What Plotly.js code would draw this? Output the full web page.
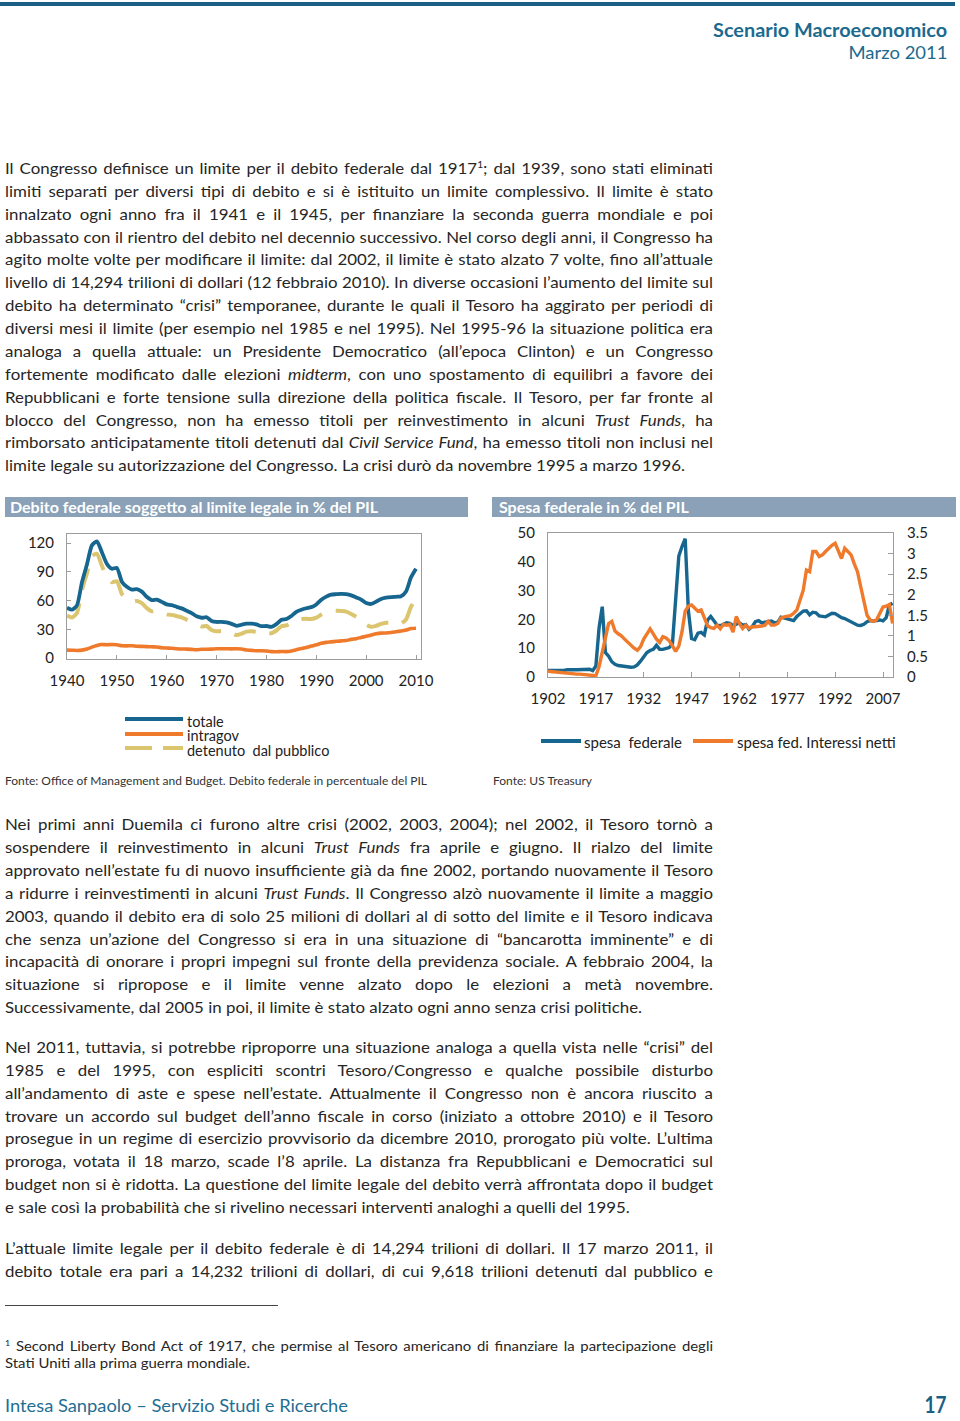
<!DOCTYPE html>
<html><head><meta charset="utf-8">
<script src="https://cdn.plot.ly/plotly-3.0.1.min.js"></script>
<style>
html,body{margin:0;padding:0;background:#fff;}
#page{position:relative;width:960px;height:1421px;overflow:hidden;background:#fff;font-family:Lato,'Open Sans',sans-serif;color:#262626;}
.ln{position:absolute;left:5px;white-space:nowrap;font-size:16.2px;line-height:20px;transform-origin:0 0;}
.fn{font-size:13.4px;line-height:16px;}
sup{font-size:0.6em;line-height:0;vertical-align:0.6em;}
#topbar{position:absolute;left:0;top:2px;width:955px;height:4px;background:#1b5e86;}
.hd{position:absolute;right:13px;white-space:nowrap;color:#1c6a8e;transform-origin:100% 0;}
#rule{position:absolute;left:5px;top:1305px;width:273px;height:1px;background:#444;}
#chart{position:absolute;left:0;top:490px;width:960px;height:310px;}
</style></head>
<body>
<div id="page">
<div id="topbar"></div>
<div class="hd" id="h1" data-b="37" data-w="234" style="font-size:18px;font-weight:700;">Scenario Macroeconomico</div>
<div class="hd" id="h2" data-b="59" data-w="99" style="font-size:18px;font-weight:400;">Marzo 2011</div>

<div class="ln b" data-b="174" data-j="1">Il Congresso definisce un limite per il debito federale dal 1917<sup>1</sup>; dal 1939, sono stati eliminati</div>
<div class="ln b" data-b="196.9" data-j="1">limiti separati per diversi tipi di debito e si è istituito un limite complessivo. Il limite è stato</div>
<div class="ln b" data-b="219.7" data-j="1">innalzato ogni anno fra il 1941 e il 1945, per finanziare la seconda guerra mondiale e poi</div>
<div class="ln b" data-b="242.6" data-j="1">abbassato con il rientro del debito nel decennio successivo. Nel corso degli anni, il Congresso ha</div>
<div class="ln b" data-b="265.4" data-j="1">agito molte volte per modificare il limite: dal 2002, il limite è stato alzato 7 volte, fino all’attuale</div>
<div class="ln b" data-b="288.3" data-j="1">livello di 14,294 trilioni di dollari (12 febbraio 2010). In diverse occasioni l’aumento del limite sul</div>
<div class="ln b" data-b="311.2" data-j="1">debito ha determinato “crisi” temporanee, durante le quali il Tesoro ha aggirato per periodi di</div>
<div class="ln b" data-b="334" data-j="1">diversi mesi il limite (per esempio nel 1985 e nel 1995). Nel 1995-96 la situazione politica era</div>
<div class="ln b" data-b="356.9" data-j="1">analoga a quella attuale: un Presidente Democratico (all’epoca Clinton) e un Congresso</div>
<div class="ln b" data-b="379.7" data-j="1">fortemente modificato dalle elezioni <i>midterm</i>, con uno spostamento di equilibri a favore dei</div>
<div class="ln b" data-b="402.6" data-j="1">Repubblicani e forte tensione sulla direzione della politica fiscale. Il Tesoro, per far fronte al</div>
<div class="ln b" data-b="425.5" data-j="1">blocco del Congresso, non ha emesso titoli per reinvestimento in alcuni <i>Trust Funds</i>, ha</div>
<div class="ln b" data-b="448.3" data-j="1">rimborsato anticipatamente titoli detenuti dal <i>Civil Service Fund</i>, ha emesso titoli non inclusi nel</div>
<div class="ln b" id="refBody" data-b="471.2">limite legale su autorizzazione del Congresso. La crisi durò da novembre 1995 a marzo 1996.</div>

<div id="chart"></div>

<div class="ln b" data-b="830" data-j="1">Nei primi anni Duemila ci furono altre crisi (2002, 2003, 2004); nel 2002, il Tesoro tornò a</div>
<div class="ln b" data-b="852.9" data-j="1">sospendere il reinvestimento in alcuni <i>Trust Funds</i> fra aprile e giugno. Il rialzo del limite</div>
<div class="ln b" data-b="875.8" data-j="1">approvato nell’estate fu di nuovo insufficiente già da fine 2002, portando nuovamente il Tesoro</div>
<div class="ln b" data-b="898.7" data-j="1">a ridurre i reinvestimenti in alcuni <i>Trust Funds</i>. Il Congresso alzò nuovamente il limite a maggio</div>
<div class="ln b" data-b="921.6" data-j="1">2003, quando il debito era di solo 25 milioni di dollari al di sotto del limite e il Tesoro indicava</div>
<div class="ln b" data-b="944.5" data-j="1">che senza un’azione del Congresso si era in una situazione di “bancarotta imminente” e di</div>
<div class="ln b" data-b="967.4" data-j="1">incapacità di onorare i propri impegni sul fronte della previdenza sociale. A febbraio 2004, la</div>
<div class="ln b" data-b="990.3" data-j="1">situazione si ripropose e il limite venne alzato dopo le elezioni a metà novembre.</div>
<div class="ln b" data-b="1013.2">Successivamente, dal 2005 in poi, il limite è stato alzato ogni anno senza crisi politiche.</div>

<div class="ln b" data-b="1053" data-j="1">Nel 2011, tuttavia, si potrebbe riproporre una situazione analoga a quella vista nelle “crisi” del</div>
<div class="ln b" data-b="1075.9" data-j="1">1985 e del 1995, con espliciti scontri Tesoro/Congresso e qualche possibile disturbo</div>
<div class="ln b" data-b="1098.7" data-j="1">all’andamento di aste e spese nell’estate. Attualmente il Congresso non è ancora riuscito a</div>
<div class="ln b" data-b="1121.6" data-j="1">trovare un accordo sul budget dell’anno fiscale in corso (iniziato a ottobre 2010) e il Tesoro</div>
<div class="ln b" data-b="1144.4" data-j="1">prosegue in un regime di esercizio provvisorio da dicembre 2010, prorogato più volte. L’ultima</div>
<div class="ln b" data-b="1167.3" data-j="1">proroga, votata il 18 marzo, scade l’8 aprile. La distanza fra Repubblicani e Democratici sul</div>
<div class="ln b" data-b="1190.2" data-j="1">budget non si è ridotta. La questione del limite legale del debito verrà affrontata dopo il budget</div>
<div class="ln b" data-b="1213">e sale così la probabilità che si rivelino necessari interventi analoghi a quelli del 1995.</div>

<div class="ln b" data-b="1254" data-j="1">L’attuale limite legale per il debito federale è di 14,294 trilioni di dollari. Il 17 marzo 2011, il</div>
<div class="ln b" data-b="1277" data-j="1">debito totale era pari a 14,232 trilioni di dollari, di cui 9,618 trilioni detenuti dal pubblico e</div>

<div id="rule"></div>
<div class="ln fn f" data-b="1351" data-j="1"><sup>1</sup> Second Liberty Bond Act of 1917, che permise al Tesoro americano di finanziare la partecipazione degli</div>
<div class="ln fn f" id="refFn" data-b="1368">Stati Uniti alla prima guerra mondiale.</div>

<div class="ln" id="ft" data-b="1412" style="font-size:18px;line-height:22px;color:#1f6e93;">Intesa Sanpaolo – Servizio Studi e Ricerche</div>
<div class="hd" id="pg" data-b="1413" data-w="22" style="font-size:22px;font-weight:700;color:#1a5f85;">17</div>
</div>

<script>
// ---------- chart data ----------
const debtYears = [1940,1941,1942,1943,1944,1945,1946,1947,1948,1949,1950,1951,1952,1953,1954,1955,1956,1957,1958,1959,1960,1961,1962,1963,1964,1965,1966,1967,1968,1969,1970,1971,1972,1973,1974,1975,1976,1977,1978,1979,1980,1981,1982,1983,1984,1985,1986,1987,1988,1989,1990,1991,1992,1993,1994,1995,1996,1997,1998,1999,2000,2001,2002,2003,2004,2005,2006,2007,2008,2009,2010];
const debtTotale = [52.4,50.4,54.9,79.1,97.6,117.5,121.7,110.3,98.2,93.1,94.1,79.7,74.3,71.4,71.8,69.3,63.9,60.4,60.8,58.6,56.0,55.2,53.4,51.8,49.3,46.9,43.5,42.0,42.5,38.6,37.6,37.8,37.1,35.6,33.6,34.7,35.8,35.8,35.0,33.2,33.4,32.5,35.3,39.9,40.7,43.8,48.2,50.4,51.9,53.1,55.9,60.7,64.1,66.1,66.6,67.0,66.6,65.4,63.2,60.9,57.3,56.4,58.8,61.6,62.9,63.5,63.9,64.4,69.4,84.2,93.2];
const debtIntragov = [8.2,8.1,7.9,8.2,9.3,11.3,13.0,14.1,13.9,14.1,13.9,12.8,12.7,12.8,12.3,12.1,11.9,11.7,11.5,10.7,10.4,10.2,9.7,9.4,9.3,9.0,8.6,9.1,9.1,9.3,9.6,9.7,9.7,9.5,9.7,9.4,8.3,8.0,7.6,7.6,7.3,6.7,6.6,6.8,6.7,7.4,8.7,9.8,10.9,12.5,13.8,15.4,16.3,16.8,17.4,17.9,18.2,19.5,20.2,21.5,22.6,23.9,25.2,26.0,26.1,26.6,27.4,28.2,29.2,30.7,31.0];
const debtPubblico = [44.2,42.3,47.0,70.9,88.3,106.2,108.7,96.2,84.3,79.0,80.2,66.9,61.6,58.6,59.5,57.2,52.0,48.7,49.3,47.9,45.6,45.0,43.7,42.4,40.0,37.9,34.9,32.9,33.4,29.3,28.0,28.1,27.4,26.1,23.9,25.3,27.5,27.8,27.4,25.6,26.1,25.8,28.7,33.1,34.0,36.4,39.5,40.6,41.0,40.6,42.1,45.3,47.8,49.3,49.2,49.1,48.4,45.9,43.0,39.4,34.7,32.5,33.6,35.6,36.8,36.9,36.5,36.2,40.2,53.5,62.2];
const debtXTicks = [1940,1950,1960,1970,1980,1990,2000,2010];
const debtYTicks = [0,30,60,90,120];

const spYears = [1902,1903,1904,1905,1906,1907,1908,1909,1910,1911,1912,1913,1914,1915,1916,1917,1918,1919,1920,1921,1922,1923,1924,1925,1926,1927,1928,1929,1930,1931,1932,1933,1934,1935,1936,1937,1938,1939,1940,1941,1942,1943,1944,1945,1946,1947,1948,1949,1950,1951,1952,1953,1954,1955,1956,1957,1958,1959,1960,1961,1962,1963,1964,1965,1966,1967,1968,1969,1970,1971,1972,1973,1974,1975,1976,1977,1978,1979,1980,1981,1982,1983,1984,1985,1986,1987,1988,1989,1990,1991,1992,1993,1994,1995,1996,1997,1998,1999,2000,2001,2002,2003,2004,2005,2006,2007,2008,2009,2010];
const spesaFederale = [2.3,2.3,2.4,2.3,2.2,2.3,2.5,2.6,2.5,2.5,2.6,2.6,2.7,2.7,2.2,3.8,17.0,24.4,8.5,7.2,5.3,4.4,4.0,3.8,3.6,3.5,3.4,3.5,4.2,5.5,7.0,8.5,9.2,9.6,11.0,9.6,9.6,10.0,10.2,11.5,28.0,42.0,45.3,48.0,23.0,13.4,13.0,15.2,15.5,14.6,19.8,21.0,19.5,18.0,17.8,18.3,18.8,18.6,17.8,18.3,18.8,18.0,18.2,16.6,17.5,19.2,19.6,18.8,19.0,19.2,19.4,18.8,19.0,20.8,20.5,20.2,20.0,19.6,21.0,22.0,22.9,23.0,21.6,22.5,22.3,21.2,20.9,20.9,21.5,22.1,22.0,21.2,20.6,20.3,19.8,19.0,18.6,18.0,17.9,18.3,19.2,19.6,19.4,19.6,19.8,19.5,20.6,25.0,25.6];
const interessiNetti = [0.14,0.13,0.12,0.11,0.10,0.09,0.09,0.08,0.08,0.07,0.07,0.06,0.06,0.05,0.04,0.03,0.25,0.60,1.00,1.30,1.35,1.12,1.05,1.00,0.92,0.84,0.78,0.70,0.65,0.74,0.92,1.05,1.17,1.05,0.92,0.84,0.98,0.95,0.88,0.76,0.62,0.75,1.10,1.60,1.72,1.75,1.67,1.60,1.63,1.45,1.25,1.20,1.18,1.26,1.17,1.28,1.26,1.28,1.09,1.47,1.30,1.18,1.26,1.18,1.22,1.22,1.22,1.24,1.26,1.35,1.26,1.26,1.30,1.43,1.46,1.47,1.49,1.55,1.63,1.87,2.11,2.60,2.56,3.05,3.05,2.93,2.97,3.05,3.13,3.20,3.25,3.05,2.88,3.13,3.05,2.97,2.75,2.56,2.20,1.85,1.50,1.38,1.35,1.39,1.55,1.70,1.72,1.76,1.30];
const spYTicksL = [0,10,20,30,40,50];
const spYTicksR = [0,0.5,1,1.5,2,2.5,3,3.5];

// ---------- text layout ----------
function baselineOf(el){
  const m=document.createElement('span');
  m.style.cssText='display:inline-block;width:0;height:0;vertical-align:baseline';
  el.appendChild(m);
  const b=m.getBoundingClientRect().top-el.getBoundingClientRect().top;
  el.removeChild(m); return b;
}
const FULLW=708;
function layoutGroup(sel, refId, refW){
  const els=[...document.querySelectorAll(sel)];
  els.forEach(el=>{ el.style.top=(+el.dataset.b - baselineOf(el))+'px'; });
  const ref=document.getElementById(refId);
  const sx=refW/ref.getBoundingClientRect().width;
  els.forEach(el=>{
    const w=el.getBoundingClientRect().width;
    if(el.dataset.j){
      const n=el.textContent.split(' ').length-1;
      el.style.wordSpacing=((FULLW/sx - w)/n)+'px';
    }
    el.style.transform='scaleX('+sx+')';
  });
}
layoutGroup('.ln.b','refBody',680);
layoutGroup('.ln.f','refFn',245);
['h1','h2','pg'].forEach(id=>{
  const el=document.getElementById(id);
  el.style.top=(+el.dataset.b - baselineOf(el))+'px';
  el.style.transform='scaleX('+(+el.dataset.w/el.getBoundingClientRect().width)+')';
});
(function(){
  const el=document.getElementById('ft');
  el.style.top=(+el.dataset.b - baselineOf(el))+'px';
  el.style.transform='scaleX('+(343/el.getBoundingClientRect().width)+')';
})();

// ---------- chart ----------
const FONT='Lato, "Open Sans", sans-serif';
const BLUE='#16668f', ORANGE='#ef7a2b', KHAKI='#dcc56f', FRAME='#9c9c9c', TXT='#222';
const FX=p=>p/960, FY=p=>1-(p-490)/310;

const traces=[
  {x:debtYears,y:debtIntragov,type:'scatter',mode:'lines',name:'intragov',xaxis:'x',yaxis:'y',
   line:{color:ORANGE,width:3.6,shape:'spline',smoothing:0.6}},
  {x:debtYears,y:debtPubblico,type:'scatter',mode:'lines',name:'detenuto dal pubblico',xaxis:'x',yaxis:'y',
   line:{color:KHAKI,width:4,dash:'22px,14px',shape:'spline',smoothing:0.6}},
  {x:debtYears,y:debtTotale,type:'scatter',mode:'lines',name:'totale',xaxis:'x',yaxis:'y',
   line:{color:BLUE,width:3.8,shape:'spline',smoothing:0.6}},
  {x:spYears,y:spesaFederale,type:'scatter',mode:'lines',name:'spesa federale',xaxis:'x2',yaxis:'y2',
   line:{color:BLUE,width:3.4}},
  {x:spYears,y:interessiNetti,type:'scatter',mode:'lines',name:'spesa fed. Interessi netti',xaxis:'x2',yaxis:'y3',
   line:{color:ORANGE,width:3.4}}
];

const axBase={showgrid:false,zeroline:false,showline:true,mirror:true,linecolor:FRAME,linewidth:1,
  tickcolor:FRAME,tickfont:{family:FONT,size:15,color:TXT},fixedrange:true};

const shapes=[
  {type:'rect',xref:'paper',yref:'paper',x0:FX(5),x1:FX(468),y0:FY(517),y1:FY(497),fillcolor:'#8aa1b7',line:{width:0}},
  {type:'rect',xref:'paper',yref:'paper',x0:FX(492),x1:FX(956),y0:FY(517),y1:FY(497),fillcolor:'#8aa1b7',line:{width:0}},
  {type:'line',xref:'paper',yref:'paper',x0:FX(125),x1:FX(183),y0:FY(719),y1:FY(719),line:{color:BLUE,width:4}},
  {type:'line',xref:'paper',yref:'paper',x0:FX(125),x1:FX(183),y0:FY(734),y1:FY(734),line:{color:ORANGE,width:4}},
  {type:'line',xref:'paper',yref:'paper',x0:FX(125),x1:FX(183),y0:FY(748),y1:FY(748),line:{color:KHAKI,width:4,dash:'27px,11px'}},
  {type:'line',xref:'paper',yref:'paper',x0:FX(541),x1:FX(581),y0:FY(741),y1:FY(741),line:{color:BLUE,width:4}},
  {type:'line',xref:'paper',yref:'paper',x0:FX(693),x1:FX(733),y0:FY(741),y1:FY(741),line:{color:ORANGE,width:4}}
];
const ann=(x,y,t,o)=>Object.assign({xref:'paper',yref:'paper',x:FX(x),y:FY(y),text:t,showarrow:false,
  xanchor:'left',yanchor:'middle',font:{family:FONT,size:15,color:TXT}},o||{});
const LEG={font:{family:FONT,size:14.5,color:TXT}};
const annotations=[
  ann(8,507,'<b>Debito federale soggetto al limite legale in % del PIL</b>',{font:{family:FONT,size:16,color:'#fff'}}),
  ann(497,507,'<b>Spesa federale in % del PIL</b>',{font:{family:FONT,size:16,color:'#fff'}}),
  ann(185,721,'totale',LEG),
  ann(185,735.5,'intragov',LEG),
  ann(185,750,'detenuto\u00a0 dal pubblico',LEG),
  ann(582,742,'spesa\u00a0 federale'),
  ann(735,742,'spesa fed. Interessi netti'),
  ann(3,780,'Fonte: Office of Management and Budget. Debito federale in percentuale del PIL',{font:{family:FONT,size:12,color:'#333'}}),
  ann(491,780,'Fonte: US Treasury',{font:{family:FONT,size:12,color:'#333'}})
];

const layout={
  width:960,height:310,margin:{l:0,r:0,t:0,b:0},paper_bgcolor:'rgba(0,0,0,0)',plot_bgcolor:'#fff',
  showlegend:false,font:{family:FONT,size:15,color:TXT},
  xaxis:Object.assign({},axBase,{domain:[FX(67),FX(421)],range:[1940,2011],tickvals:debtXTicks,
    ticks:'inside',ticklen:4,anchor:'y',ticklabelstandoff:8}),
  yaxis:Object.assign({},axBase,{domain:[FY(659),FY(534)],range:[-1.04,129.4],tickvals:debtYTicks,
    ticks:'inside',ticklen:4,anchor:'x',ticklabelstandoff:9}),
  xaxis2:Object.assign({},axBase,{domain:[FX(548),FX(893)],range:[1902,2010.13],tick0:1902,dtick:15,
    ticks:'inside',ticklen:5,anchor:'y2',ticklabelstandoff:8}),
  yaxis2:Object.assign({},axBase,{domain:[FY(677),FY(533)],range:[0,50],tickvals:spYTicksL,
    ticks:'',anchor:'x2',ticklabelstandoff:9}),
  yaxis3:Object.assign({},axBase,{overlaying:'y2',side:'right',range:[0,3.5],tickvals:spYTicksR,
    ticks:'inside',ticklen:5,anchor:'x2',ticklabelstandoff:10,mirror:false}),
  shapes:shapes,annotations:annotations
};
Plotly.newPlot('chart',traces,layout,{staticPlot:true,displayModeBar:false});
</script>
</body></html>
